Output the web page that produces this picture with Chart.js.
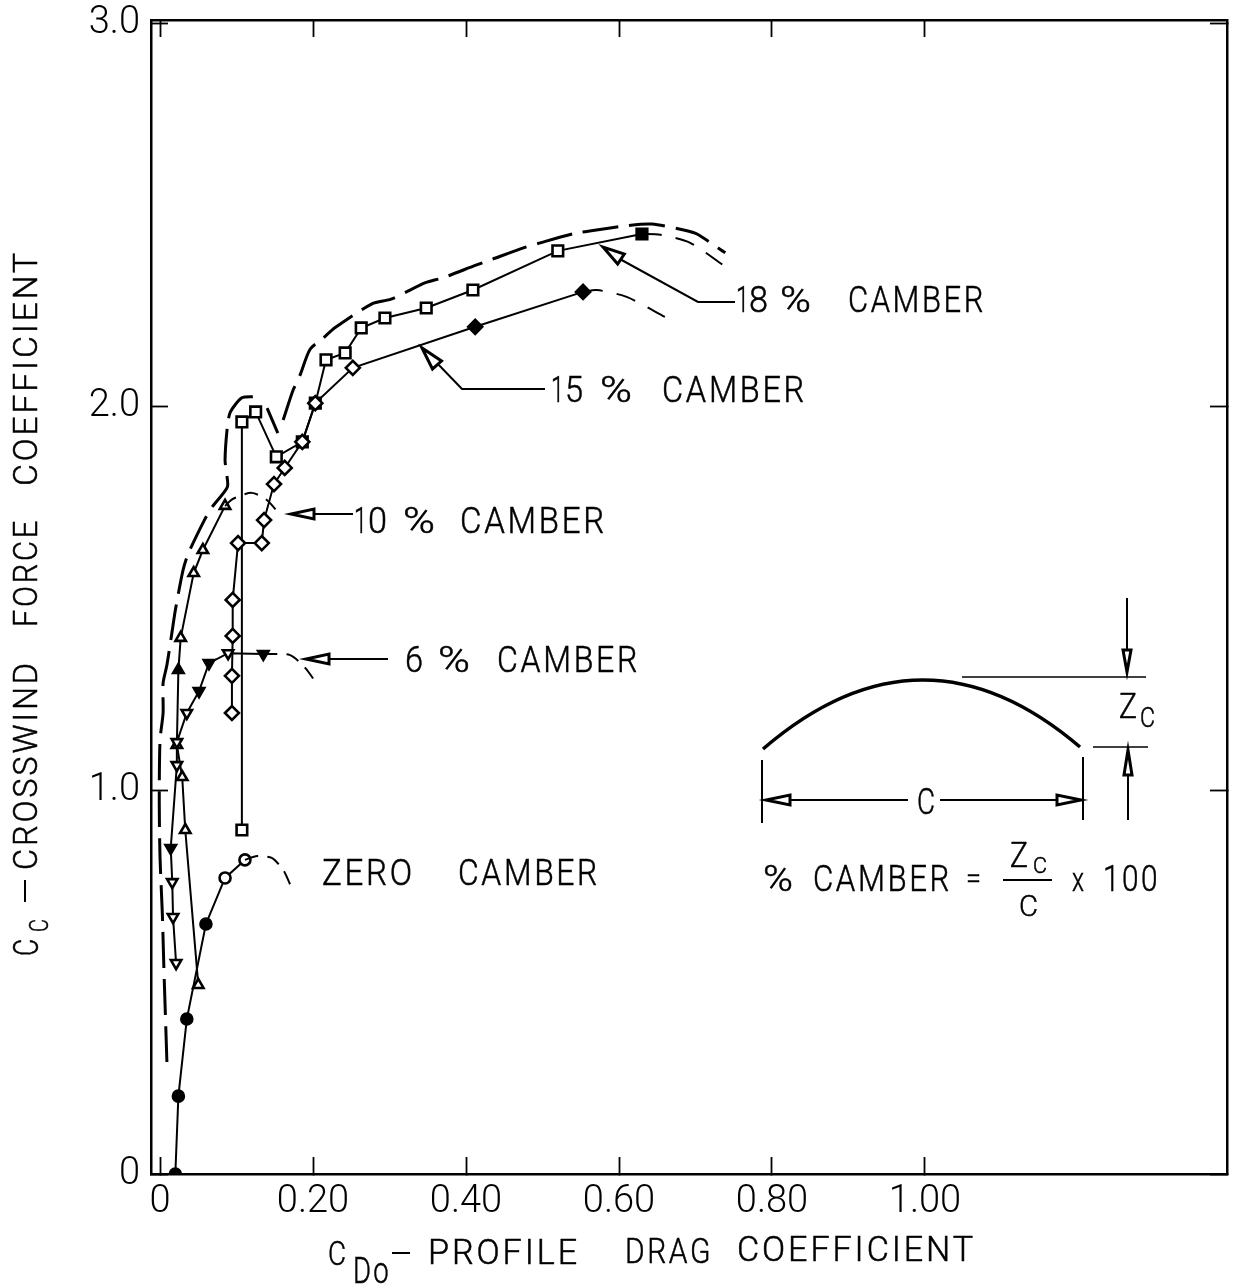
<!DOCTYPE html>
<html>
<head>
<meta charset="utf-8">
<style>
  html, body { margin: 0; padding: 0; background: #fff; }
  canvas { display: block; }
</style>
<script src="https://cdn.jsdelivr.net/npm/chart.js@4/dist/chart.umd.min.js"></script>
</head>
<body>
<canvas id="camber-chart" width="1238" height="1287"></canvas>
<script>
// values
var xTickValues = [0, 0.2, 0.4, 0.6, 0.8, 1.0];
var xTickLabels = ['0', '0.20', '0.40', '0.60', '0.80', '1.00'];
var yTickValues = [0, 1, 2, 3];
var yTickLabels = ['0', '1.0', '2.0', '3.0'];

var zeroX = [0.020, 0.024, 0.035, 0.060, 0.085, 0.111];
var zeroY = [0, 0.203, 0.404, 0.652, 0.772, 0.819];
var zeroDashX = [0.111, 0.127, 0.146, 0.161, 0.171];
var zeroDashY = [0.819, 0.829, 0.824, 0.793, 0.751];

var six_X = [0.021, 0.017, 0.016, 0.014, 0.022, 0.022, 0.035, 0.051, 0.064, 0.089, 0.135];
var six_Y = [0.550, 0.670, 0.761, 0.850, 1.066, 1.126, 1.202, 1.259, 1.332, 1.358, 1.356];
var sixDashX = [0.135, 0.170, 0.190, 0.205];
var sixDashY = [1.356, 1.353, 1.319, 1.278];

var tenX = [0.050, 0.033, 0.029, 0.022, 0.024, 0.027, 0.044, 0.056, 0.085];
var tenY = [0.493, 0.897, 1.035, 1.119, 1.314, 1.398, 1.567, 1.627, 1.742];
var tenDashX = [0.085, 0.095, 0.120, 0.140, 0.158];
var tenDashY = [1.742, 1.760, 1.776, 1.757, 1.716];

var fifteenX = [0.094, 0.094, 0.095, 0.095, 0.102, 0.133, 0.136, 0.149, 0.163, 0.186, 0.203, 0.252, 0.412, 0.553];
var fifteenY = [1.202, 1.299, 1.403, 1.497, 1.645, 1.645, 1.705, 1.799, 1.841, 1.909, 2.010, 2.102, 2.209, 2.300];
var fifteenDashX = [0.553, 0.571, 0.610, 0.660];
var fifteenDashY = [2.300, 2.305, 2.287, 2.235];

var eighteenX = [0.107, 0.107, 0.125, 0.152, 0.186, 0.203, 0.217, 0.242, 0.263, 0.294, 0.348, 0.409, 0.520, 0.630];
var eighteenY = [0.897, 1.961, 1.987, 1.870, 1.909, 2.010, 2.123, 2.141, 2.206, 2.232, 2.258, 2.305, 2.407, 2.451];
var eighteenDashX = [0.630, 0.654, 0.693, 0.736];
var eighteenDashY = [2.451, 2.449, 2.428, 2.370];

// the long heavy dashed envelope above all curves, null = gap in the pen line
var envelopeX = [0.009, 0.005, 0.003, 0, -0.001, 0, 0.004, 0.004, 0.009, 0.017, 0.020, 0.030, 0.037, 0.058, 0.068, 0.088, 0.087, 0.085, 0.088, 0.092, 0.107, 0.124, null, 0.140, 0.154, null, 0.161, 0.174, 0.183, 0.196, 0.213, 0.229, 0.277, 0.303, 0.347, 0.370, 0.412, 0.434, 0.477, 0.497, 0.545, 0.566, 0.611, 0.643, 0.686, 0.702, 0.739];
var envelopeY = [0.292, 0.540, 0.680, 0.826, 0.967, 1.131, 1.202, 1.280, 1.327, 1.431, 1.470, 1.574, 1.618, 1.705, 1.739, 1.791, 1.827, 1.862, 1.948, 1.987, 2.024, 2.027, null, 1.997, 1.932, null, 1.966, 2.044, 2.083, 2.150, 2.179, 2.207, 2.269, 2.282, 2.324, 2.337, 2.369, 2.385, 2.416, 2.428, 2.454, 2.460, 2.473, 2.477, 2.461, 2.451, 2.402];

// which markers are inked solid in the original
var zeroSolid = [1, 1, 1, 1, 0, 0];
var sixSolid = [0, 0, 0, 1, 0, 0, 0, 1, 1, 0, 1];
var tenSolid = [0, 0, 0, 0, 1, 0, 0, 0, 0];
var fifteenSolid = [0, 0, 0, 0, 0, 0, 0, 0, 0, 0, 0, 0, 1, 1];
var eighteenSolid = [0, 0, 0, 0, 0, 0, 0, 0, 0, 0, 0, 0, 0, 1];

function zip(xs, ys) {
    return xs.map(function (x, i) { return { x: x, y: ys[i] }; });
}

function curve(xs, ys, style, solid, rotation, radius) {
    return {
        data: zip(xs, ys),
        showLine: true,
        borderColor: '#000',
        borderWidth: 2,
        tension: 0,
        pointStyle: style,
        pointRotation: rotation,
        pointRadius: radius,
        pointBorderWidth: 2.6,
        pointBorderColor: '#000',
        pointBackgroundColor: function (c) { return solid[c.dataIndex] ? '#000' : '#fff'; }
    };
}

function dashed(xs, ys, width, dash) {
    return {
        data: zip(xs, ys),
        showLine: true,
        spanGaps: false,
        borderColor: '#000',
        borderWidth: width,
        borderDash: dash,
        tension: 0.25,
        pointRadius: 0
    };
}

var FONT = 'Roboto, "Liberation Sans", sans-serif';

// draws one word fitted to the width it has in the lettering of the original
function word(ctx, s, x, w, base, size) {
    ctx.font = '300 ' + size + 'px ' + FONT;
    ctx.letterSpacing = s.length > 1 ? '3px' : '0px';
    ctx.textAlign = 'left';
    ctx.textBaseline = 'alphabetic';
    var natural = ctx.measureText(s).width;
    ctx.save();
    ctx.translate(x, base);
    ctx.scale(w / natural, 1);
    ctx.fillText(s, 0, 0);
    ctx.lineWidth = 0.5;   // light face is a bit thinner than the lettering pen
    ctx.strokeText(s, 0, 0);
    ctx.restore();
    ctx.letterSpacing = '0px';
}

function seg(ctx, pts, w) {
    ctx.lineWidth = w;
    ctx.beginPath();
    pts.forEach(function (p, i) {
        if (i) ctx.lineTo(p[0], p[1]); else ctx.moveTo(p[0], p[1]);
    });
    ctx.stroke();
}

// arrow head, slim triangle like the hand drawn ones
function head(ctx, tipX, tipY, baseX, baseY, halfW) {
    var dx = baseX - tipX, dy = baseY - tipY, l = Math.sqrt(dx * dx + dy * dy);
    var nx = -dy / l * halfW, ny = dx / l * halfW;
    ctx.lineWidth = 3;
    ctx.fillStyle = '#fff';
    ctx.beginPath();
    ctx.moveTo(tipX, tipY);
    ctx.lineTo(baseX + nx, baseY + ny);
    ctx.lineTo(baseX - nx, baseY - ny);
    ctx.closePath();
    ctx.fill();
    ctx.stroke();
    ctx.fillStyle = '#000';
}

var annotations = {
    id: 'annotations',
    afterDatasetsDraw: function (chart) {
        var ctx = chart.ctx;
        ctx.save();
        ctx.fillStyle = '#000';
        ctx.strokeStyle = '#000';
        ctx.lineCap = 'butt';

        // x axis title
        word(ctx, 'C', 328, 18, 1265, 34);
        word(ctx, 'Do', 353, 38, 1283, 36);
        seg(ctx, [[392, 1253], [410, 1253]], 2);
        word(ctx, 'PROFILE', 428, 152, 1264, 35);
        word(ctx, 'DRAG', 625, 88, 1263, 35);
        word(ctx, 'COEFFICIENT', 737, 239, 1261, 35);

        // y axis title, rotated so x runs up the page
        ctx.save();
        ctx.rotate(-Math.PI / 2);
        word(ctx, 'C', -956, 17, 38, 35);
        word(ctx, 'C', -932, 13, 48, 25);
        seg(ctx, [[-902, 25], [-880, 25]], 2);
        word(ctx, 'CROSSWIND', -870, 210, 37, 34);
        word(ctx, 'FORCE', -627, 109, 37, 34);
        word(ctx, 'COEFFICIENT', -486, 236, 37, 34);
        ctx.restore();

        // curve labels
        word(ctx, '1', 736, 13, 312, 36);
        word(ctx, '8', 749, 19, 312, 36);
        word(ctx, '%', 780, 31, 312, 36);
        word(ctx, 'CAMBER', 848, 138, 312, 36);
        word(ctx, '1', 551, 13, 402, 36);
        word(ctx, '5', 565, 18, 402, 36);
        word(ctx, '%', 600, 32, 402, 36);
        word(ctx, 'CAMBER', 662, 145, 402, 36);
        word(ctx, '1', 354, 13, 533, 36);
        word(ctx, '0', 368, 19, 533, 36);
        word(ctx, '%', 403, 32, 533, 36);
        word(ctx, 'CAMBER', 460, 147, 533, 36);
        word(ctx, '6', 405, 18, 672, 36);
        word(ctx, '%', 438, 32, 672, 36);
        word(ctx, 'CAMBER', 497, 143, 672, 36);
        word(ctx, 'ZERO', 322, 93, 885, 36);
        word(ctx, 'CAMBER', 458, 142, 885, 36);

        // leaders
        seg(ctx, [[735, 302], [698, 302], [618, 258]], 2);
        head(ctx, 603, 247, 621, 259, 6);
        seg(ctx, [[545, 389], [462, 389], [435, 361]], 2);
        head(ctx, 422, 348, 437, 365, 6);
        seg(ctx, [[353, 514], [315, 514]], 2);
        head(ctx, 291, 514, 314, 514, 5);
        seg(ctx, [[388, 659], [330, 659]], 2);
        head(ctx, 306, 659, 329, 659, 5);

        // airfoil inset
        ctx.lineWidth = 3.5;
        ctx.beginPath();
        ctx.moveTo(763, 749);
        ctx.quadraticCurveTo(922, 612, 1080, 747);
        ctx.stroke();
        seg(ctx, [[962, 677], [1146, 677]], 1.5);
        seg(ctx, [[1093, 747], [1148, 747]], 1.5);
        seg(ctx, [[1127, 598], [1127, 650]], 2);
        head(ctx, 1127, 672, 1127, 650, 4);
        seg(ctx, [[1128, 820], [1128, 775]], 2);
        head(ctx, 1128, 750, 1128, 775, 4);
        seg(ctx, [[762, 760], [762, 823]], 2);
        seg(ctx, [[1083, 757], [1083, 820]], 2);
        seg(ctx, [[790, 800], [908, 800]], 2);
        seg(ctx, [[940, 800], [1058, 800]], 2);
        head(ctx, 766, 800, 790, 800, 5);
        head(ctx, 1081, 800, 1057, 800, 5);
        word(ctx, 'C', 917, 18, 814, 37);
        word(ctx, 'Z', 1119, 18, 718, 35);
        word(ctx, 'C', 1140, 15, 727, 28);

        // formula
        word(ctx, '%', 763, 30, 891, 36);
        word(ctx, 'CAMBER', 813, 139, 891, 36);
        word(ctx, '=', 966, 15, 888, 30);
        word(ctx, 'Z', 1010, 18, 867, 35);
        word(ctx, 'C', 1033, 14, 873, 22);
        seg(ctx, [[1003, 880], [1052, 880]], 2);
        word(ctx, 'C', 1019, 19, 916, 29);
        word(ctx, 'x', 1072, 12, 891, 34);
        word(ctx, '100', 1103, 57, 891, 36);

        ctx.restore();
    }
};

function axisOptions(pos, values, labels, min, max, fitSize, padding, showLabels) {
    return {
        type: 'linear',
        position: pos,
        min: min,
        max: max,
        border: { display: true, color: '#000', width: 2.5 },
        grid: { drawOnChartArea: false, drawTicks: true, tickLength: -17, tickColor: '#000', tickWidth: 1.8 },
        ticks: {
            display: showLabels,
            autoSkip: false,
            maxRotation: 0,
            padding: padding,
            color: '#000',
            font: { family: FONT, size: 38, weight: 300 },
            callback: function (v) {
                var i = values.indexOf(Math.round(v * 100) / 100);
                return i < 0 ? '' : labels[i];
            }
        },
        afterBuildTicks: function (s) {
            s.ticks = values.map(function (v) { return { value: v }; });
        },
        afterFit: function (s) {
            if (s.isHorizontal()) s.height = fitSize; else s.width = fitSize;
            // the frame is placed by hand, labels may hang over its corners
            s.paddingTop = s.paddingBottom = s.paddingLeft = s.paddingRight = 0;
        }
    };
}

var xMin = -0.0118, xMax = 1.3948, yMin = 0, yMax = 3.009;

new Chart(document.getElementById('camber-chart').getContext('2d'), {
    type: 'scatter',
    data: {
        datasets: [
            dashed(envelopeX, envelopeY, 3, [36, 11]),
            dashed(zeroDashX, zeroDashY, 2, [14, 9]),
            dashed(sixDashX, sixDashY, 2, [14, 9]),
            dashed(tenDashX, tenDashY, 2, [14, 9]),
            dashed(fifteenDashX, fifteenDashY, 2, [20, 14]),
            dashed(eighteenDashX, eighteenDashY, 2, [20, 14]),
            curve(zeroX, zeroY, 'circle', zeroSolid, 0, 5.5),
            curve(six_X, six_Y, 'triangle', sixSolid, 180, 6),
            curve(tenX, tenY, 'triangle', tenSolid, 0, 6),
            curve(fifteenX, fifteenY, 'rectRot', fifteenSolid, 0, 7),
            curve(eighteenX, eighteenY, 'rect', eighteenSolid, 0, 7.5)
        ]
    },
    options: {
        responsive: false,
        animation: false,
        layout: { padding: { top: 20, right: 11, left: 0, bottom: 0 } },
        plugins: { legend: { display: false }, tooltip: { enabled: false } },
        scales: {
            x: axisOptions('bottom', xTickValues, xTickLabels, xMin, xMax, 113, 23, true),
            y: axisOptions('left', yTickValues, yTickLabels, yMin, yMax, 151, 28, true),
            xTop: axisOptions('top', xTickValues, xTickLabels, xMin, xMax, 0, 0, false),
            yRight: axisOptions('right', yTickValues, yTickLabels, yMin, yMax, 0, 0, false)
        }
    },
    plugins: [annotations]
});
</script>
</body>
</html>
